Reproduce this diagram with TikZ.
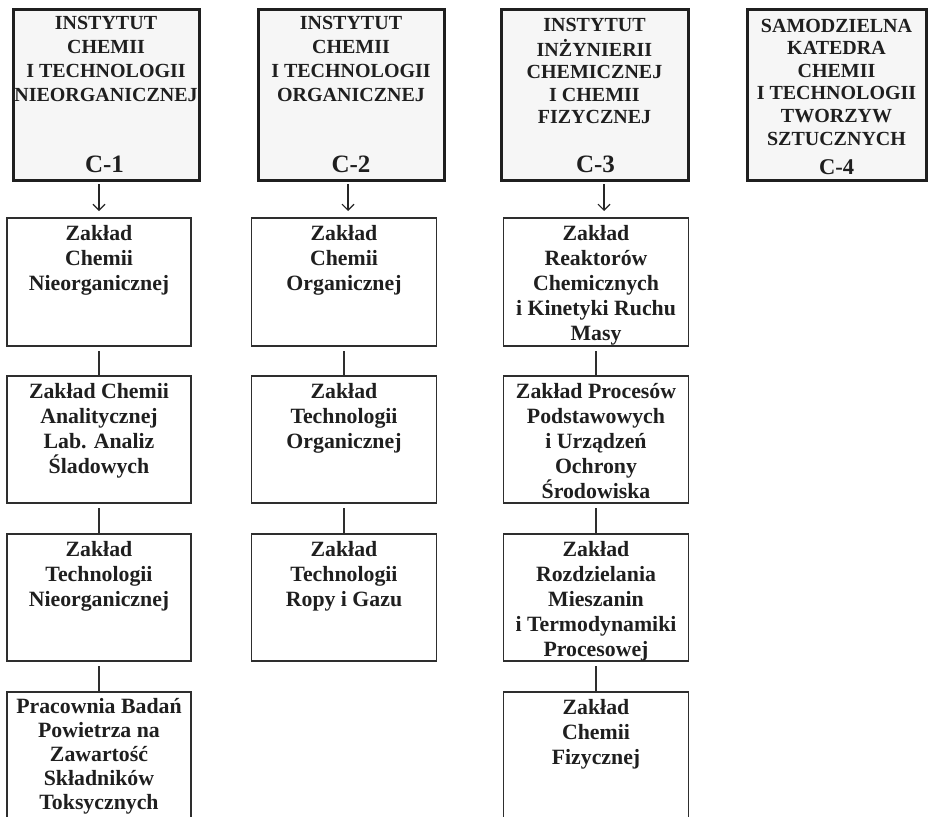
\documentclass[tikz,border=0pt]{standalone}
\usepackage{fontspec}
\setmainfont{Liberation Serif}
\usetikzlibrary{arrows.meta,calc}

\begin{document}
\begin{tikzpicture}[x=1pt,y=-1pt,
  inst/.style={draw=black!88, line width=3pt, fill=gray!7, inner sep=0pt, outer sep=0pt},
  dept/.style={draw=black!82, line width=1.4pt, fill=white, inner sep=0pt, outer sep=0pt},
  hdtxt/.style={font=\fontsize{20}{24}\selectfont\bfseries, text=black!88, align=center, anchor=north, inner sep=0pt},
  hdtxtb/.style={hdtxt, font=\fontsize{20}{22.6}\selectfont\bfseries},
  cnum/.style={font=\fontsize{25}{30}\selectfont\bfseries, text=black!88, anchor=base, inner sep=0pt},
  dtxt/.style={font=\fontsize{21.8}{25}\selectfont\bfseries, text=black!88, align=center, anchor=north, inner sep=0pt},
  link/.style={draw=black!82, line width=1.4pt},
  arr/.style={draw=black!85, line width=1.1pt, -{Straight Barb[length=6pt,width=12pt,line width=1.1pt]}}
]
\useasboundingbox (0,0) rectangle (928,816);
\fill[white] (0,0) rectangle (928,816);

% ---- institutes ----
\node[inst, minimum width=186pt, minimum height=170pt] (c1) at (106,95) {};
\node[inst, minimum width=186pt, minimum height=170pt] (c2) at (351,95) {};
\node[inst, minimum width=187pt, minimum height=170pt] (c3) at (594.5,95) {};
\node[inst, minimum width=179pt, minimum height=170pt] (c4) at (836.5,95) {};

\node[hdtxt] (c1t) at ($(c1.north)+(0,2.2)$) {\strut INSTYTUT\\CHEMII\\I TECHNOLOGII\\NIEORGANICZNEJ};
\node[hdtxt] (c2t) at ($(c2.north)+(0,2.2)$) {\strut INSTYTUT\\CHEMII\\I TECHNOLOGII\\ORGANICZNEJ};
\node[hdtxtb] (c3t) at ($(c3.north)+(0,5.2)$) {\strut INSTYTUT\\INŻYNIERII\\CHEMICZNEJ\\I CHEMII\\FIZYCZNEJ};
\node[hdtxtb] (c4t) at ($(c4.north)+(0,6)$) {\strut SAMODZIELNA\\KATEDRA\\CHEMII\\I TECHNOLOGII\\TWORZYW\\SZTUCZNYCH};

\node[cnum] (c1n) at ($(c1.south)+(-1.5,-8)$) {C-1};
\node[cnum] (c2n) at ($(c2.south)+(0,-8)$) {C-2};
\node[cnum] (c3n) at ($(c3.south)+(1,-8)$) {C-3};
\node[cnum, font=\fontsize{22.5}{26}\selectfont\bfseries] (c4n) at ($(c4.south)+(0,-6)$) {C-4};

% ---- column 1 ----
\node[dept, minimum width=184pt, minimum height=128pt] (a1) at (99,282) {};
\node[dept, minimum width=184pt, minimum height=127pt] (a2) at (99,439.5) {};
\node[dept, minimum width=184pt, minimum height=127pt] (a3) at (99,597.5) {};
\node[dept, minimum width=184pt, minimum height=128pt] (a4) at (99,756) {};

\node[dtxt] (a1t) at ($(a1.north)+(0,4.5)$) {\strut Zakład\\Chemii\\Nieorganicznej};
\node[dtxt] (a2t) at ($(a2.north)+(0,4.5)$) {\strut Zakład Chemii\\Analitycznej\\Lab. Analiz\\Śladowych};
\node[dtxt] (a3t) at ($(a3.north)+(0,4.5)$) {\strut Zakład\\Technologii\\Nieorganicznej};
\node[dtxt, font=\fontsize{21.8}{24}\selectfont\bfseries] (a4t) at ($(a4.north)+(0,4)$) {\strut Pracownia Badań\\Powietrza na\\Zawartość\\Składników\\Toksycznych};

% ---- column 2 ----
\node[dept, minimum width=185pt, minimum height=128pt] (b1) at (344,282) {};
\node[dept, minimum width=185pt, minimum height=127pt] (b2) at (344,439.5) {};
\node[dept, minimum width=185pt, minimum height=127pt] (b3) at (344,597.5) {};

\node[dtxt] (b1t) at ($(b1.north)+(0,4.5)$) {\strut Zakład\\Chemii\\Organicznej};
\node[dtxt] (b2t) at ($(b2.north)+(0,4.5)$) {\strut Zakład\\Technologii\\Organicznej};
\node[dtxt] (b3t) at ($(b3.north)+(0,4.5)$) {\strut Zakład\\Technologii\\Ropy i Gazu};

% ---- column 3 ----
\node[dept, minimum width=185pt, minimum height=128pt] (d1) at (596,282) {};
\node[dept, minimum width=185pt, minimum height=127pt] (d2) at (596,439.5) {};
\node[dept, minimum width=185pt, minimum height=127pt] (d3) at (596,597.5) {};
\node[dept, minimum width=185pt, minimum height=128pt] (d4) at (596,756) {};

\node[dtxt] (d1t) at ($(d1.north)+(0,4.5)$) {\strut Zakład\\Reaktorów\\Chemicznych\\i Kinetyki Ruchu\\Masy};
\node[dtxt] (d2t) at ($(d2.north)+(0,4.5)$) {\strut Zakład Procesów\\Podstawowych\\i Urządzeń\\Ochrony\\Środowiska};
\node[dtxt] (d3t) at ($(d3.north)+(0,4.5)$) {\strut Zakład\\Rozdzielania\\Mieszanin\\i Termodynamiki\\Procesowej};
\node[dtxt] (d4t) at ($(d4.north)+(0,4.5)$) {\strut Zakład\\Chemii\\Fizycznej};

% ---- arrows from institutes ----
\draw[arr] ($(c1.south -| a1.north)+(0,4)$) -- ($(a1.north)+(0,-7)$);
\draw[arr] ($(c2.south -| b1.north)+(4,4)$) -- ($(b1.north)+(4,-7)$);
\draw[arr] ($(c3.south -| d1.north)+(8,4)$) -- ($(d1.north)+(8,-7)$);

% ---- links between departments ----
\draw[link] ($(a1.south)+(0,5)$) -- (a2.north);
\draw[link] ($(a2.south)+(0,5)$) -- (a3.north);
\draw[link] ($(a3.south)+(0,5)$) -- (a4.north);
\draw[link] ($(b1.south)+(0,5)$) -- (b2.north);
\draw[link] ($(b2.south)+(0,5)$) -- (b3.north);
\draw[link] ($(d1.south)+(0,5)$) -- (d2.north);
\draw[link] ($(d2.south)+(0,5)$) -- (d3.north);
\draw[link] ($(d3.south)+(0,5)$) -- (d4.north);
\end{tikzpicture}
\end{document}
